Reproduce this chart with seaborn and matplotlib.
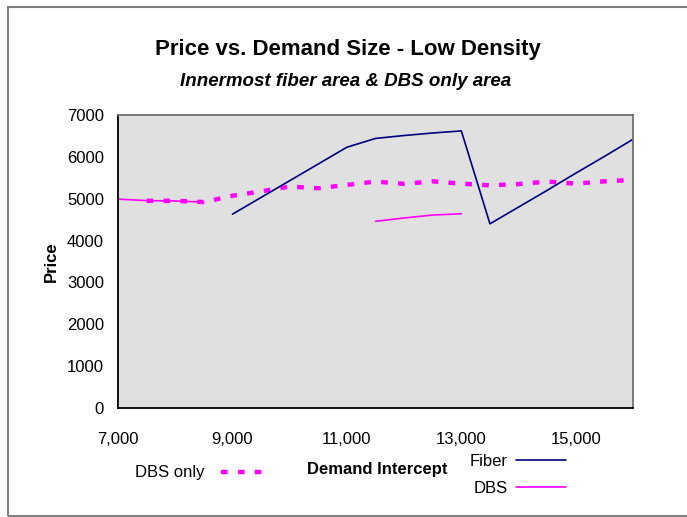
import numpy as np
import pandas as pd
import matplotlib
matplotlib.use("Agg")
import matplotlib.pyplot as plt
from matplotlib.lines import Line2D
from matplotlib.patches import Rectangle
import seaborn as sns

# Demand intercept grid and price series
demand = [7000, 7500, 8000, 8500, 9000, 9500, 10000, 10500, 11000, 11500,
          12000, 12500, 13000, 13500, 14000, 14500, 15000, 15500, 16000]
fiber = [np.nan, np.nan, np.nan, np.nan, 4630, 5030, 5430, 5830, 6230, 6440,
         6510, 6570, 6620, 4400, 4800, 5200, 5610, 6010, 6420]
dbs = [4990, 4955, 4945, 4920, np.nan, np.nan, np.nan, np.nan, np.nan, 4460,
       4540, 4610, 4640, np.nan, np.nan, np.nan, np.nan, np.nan, np.nan]
dbs_only = [np.nan, 4950, 4950, 4920, 5070, 5175, 5290, 5250, 5330, 5410,
            5355, 5415, 5360, 5320, 5350, 5410, 5360, 5415, 5450]

x_ticks = [7000, 9000, 11000, 13000, 15000]
x_tick_labels = ["7,000", "9,000", "11,000", "13,000", "15,000"]
y_ticks = [0, 1000, 2000, 3000, 4000, 5000, 6000, 7000]

NAVY = "#000080"
MAGENTA = "#FF00FF"
SQUARE_DOT = (0, (1.5, 2.3))

sns.set_style("white", {"axes.facecolor": "#E0E0E0"})
plt.rcParams["font.family"] = ["Liberation Sans", "DejaVu Sans"]
plt.rcParams["text.color"] = "black"
plt.rcParams["axes.labelcolor"] = "black"

df = pd.DataFrame({"demand": demand, "Fiber": fiber, "DBS": dbs, "DBS only": dbs_only})
long = df.melt(id_vars="demand", var_name="series", value_name="price").dropna()
# contiguous runs so gaps in a series are not bridged
long["run"] = long.groupby("series")["demand"].diff().ne(500).cumsum()

fig = plt.figure(figsize=(6.87, 5.17), dpi=100)
ax = fig.add_axes([118 / 687, 109 / 517, 515 / 687, 293 / 517])

sns.lineplot(data=long[long.series == "DBS only"], x="demand", y="price",
             units="run", estimator=None, color=MAGENTA, lw=3.2,
             linestyle=SQUARE_DOT, dash_capstyle="butt", ax=ax, legend=False)
sns.lineplot(data=long[long.series == "Fiber"], x="demand", y="price",
             units="run", estimator=None, color=NAVY, lw=1.2, ax=ax, legend=False)
sns.lineplot(data=long[long.series == "DBS"], x="demand", y="price",
             units="run", estimator=None, color=MAGENTA, lw=1.2, ax=ax, legend=False)

ax.set_xlim(7000, 16000)
ax.set_ylim(0, 7000)
ax.set_xticks(x_ticks, x_tick_labels)
ax.set_yticks(y_ticks, [str(v) for v in y_ticks])
ax.tick_params(axis="x", direction="inout", length=10, width=1, labelsize=12,
               pad=12, colors="black")
ax.tick_params(axis="y", direction="out", length=5, width=1, labelsize=12,
               pad=5, colors="black")

for side in ("left", "bottom"):
    ax.spines[side].set_color("black")
    ax.spines[side].set_linewidth(1.3)
for side in ("top", "right"):
    ax.spines[side].set_color("#707070")
    ax.spines[side].set_linewidth(1.3)

ax.set_xlabel("Demand Intercept", fontsize=12, fontweight="bold")
ax.xaxis.set_label_coords(0.503, -0.184)
ax.set_ylabel("Price", fontsize=12, fontweight="bold")
ax.yaxis.set_label_coords(-0.114, 0.5)

fig.text(348 / 687, 1 - 50 / 517, "Price vs. Demand Size - Low Density",
         ha="center", va="center", fontsize=16, fontweight="bold")
fig.text(346 / 687, 1 - 82 / 517, "Innermost fiber area & DBS only area",
         ha="center", va="center", fontsize=13.5, fontweight="bold", style="italic")

h_only = Line2D([], [], color=MAGENTA, lw=3.2, linestyle=SQUARE_DOT, dash_capstyle="butt")
fig.legend([h_only], ["DBS only"], loc="center",
           bbox_to_anchor=(202 / 687, 1 - 473 / 517), frameon=False,
           markerfirst=False, fontsize=12, handlelength=2.9,
           handletextpad=1.0, borderpad=0)

h_fiber = Line2D([], [], color=NAVY, lw=1.2)
h_dbs = Line2D([], [], color=MAGENTA, lw=1.2)
fig.legend([h_fiber, h_dbs], ["Fiber", "DBS"], loc="center",
           bbox_to_anchor=(518 / 687, 1 - 475 / 517), frameon=False,
           markerfirst=False, fontsize=12, handlelength=3.0,
           handletextpad=0.5, labelspacing=0.75, borderpad=0)

fig.add_artist(Rectangle((8 / 687, 1 / 517), 1.0, 509 / 517,
                         transform=fig.transFigure, fill=False,
                         edgecolor="#808080", lw=1.5, clip_on=False))

fig.savefig("out.png", dpi=100)
